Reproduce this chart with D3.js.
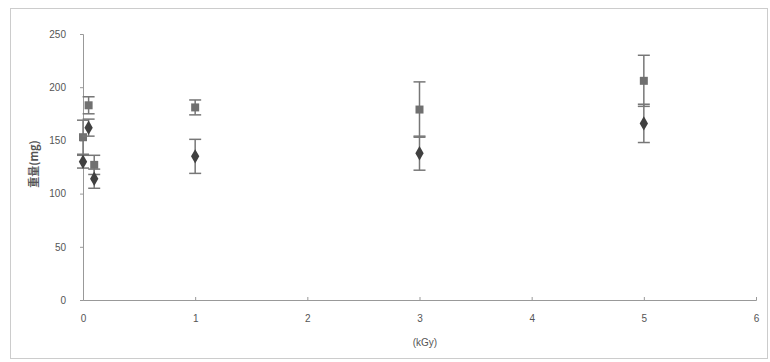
<!DOCTYPE html>
<html>
<head>
<meta charset="utf-8">
<script src="https://cdn.jsdelivr.net/npm/d3@7"></script>
<style>
body { margin: 0; background: #fff; }
text { font-family: "Liberation Sans", Arial, sans-serif; fill: #555; }
</style>
</head>
<body>
<div id="chart"></div>
<script>
// dose (kGy)
var doses = [0, 0.05, 0.1, 1, 3, 5];
// square series
var sqValues = [153, 183, 127, 181, 179, 206];
var sqErrors = [16, 8, 9, 7, 26, 24];
// diamond series
var dmValues = [130, 162, 114, 135, 138, 166];
var dmErrors = [6, 8, 9, 16, 16, 18];
var xTicks = [0, 1, 2, 3, 4, 5, 6];
var yTicks = [0, 50, 100, 150, 200, 250];

var W = 770, H = 362;
var svg = d3.select("#chart").append("svg").attr("width", W).attr("height", H);

// outer frame
svg.append("rect").attr("x", 10.5).attr("y", 8.5).attr("width", 757).attr("height", 350)
  .attr("fill", "none").attr("stroke", "#ccc").attr("stroke-width", 1);

var x = d3.scaleLinear().domain([0, 6]).range([83, 756]);
var y = d3.scaleLinear().domain([0, 250]).range([300, 34]);

var g = svg.append("g");

// y axis
var yAxis = g.append("g").attr("transform", "translate(" + x(0) + ",0)")
  .call(d3.axisLeft(y).tickValues(yTicks).tickSize(3).tickPadding(14));
// x axis
var xAxis = g.append("g").attr("transform", "translate(0," + y(0) + ")")
  .call(d3.axisBottom(x).tickValues(xTicks).tickFormat(d3.format("d")).tickSize(-3).tickPadding(15));

[yAxis, xAxis].forEach(function(a) {
  a.select(".domain").attr("stroke", "#999");
  a.selectAll(".tick line").attr("stroke", "#999");
  a.selectAll(".tick text").style("font-size", "10px").attr("fill", "#555");
});

// titles
svg.append("text").attr("transform", "translate(34,164) rotate(-90)")
  .attr("text-anchor", "middle").attr("dy", "0.35em")
  .style("font-family", "'Noto Sans CJK JP', sans-serif").style("font-size", "11px")
  .style("font-weight", "bold").text("重量(mg)");
svg.append("text").attr("x", 425).attr("y", 346).attr("text-anchor", "middle")
  .style("font-size", "10px").text("(kGy)");

function drawSeries(vals, errs, shape, color) {
  var data = doses.map(function(d, i) { return { x: d, v: vals[i], e: errs[i] }; });
  var eg = g.append("g");
  data.forEach(function(d) {
    var cx = x(d.x);
    eg.append("line").attr("x1", cx).attr("x2", cx).attr("y1", y(d.v - d.e)).attr("y2", y(d.v + d.e))
      .attr("stroke", "#777").attr("stroke-width", 1.5);
    [d.v - d.e, d.v + d.e].forEach(function(c) {
      eg.append("line").attr("x1", cx - 6).attr("x2", cx + 6).attr("y1", y(c)).attr("y2", y(c))
        .attr("stroke", "#777").attr("stroke-width", 1.5);
    });
  });
  g.append("g").selectAll("path").data(data).enter().append("path")
    .attr("transform", function(d) { return "translate(" + x(d.x) + "," + y(d.v) + ")"; })
    .attr("d", d3.symbol().type(shape).size(shape === d3.symbolSquare ? 64 : 60))
    .attr("fill", color);
}

drawSeries(sqValues, sqErrors, d3.symbolSquare, "#707070");
drawSeries(dmValues, dmErrors, d3.symbolDiamond, "#404040");
</script>
</body>
</html>
